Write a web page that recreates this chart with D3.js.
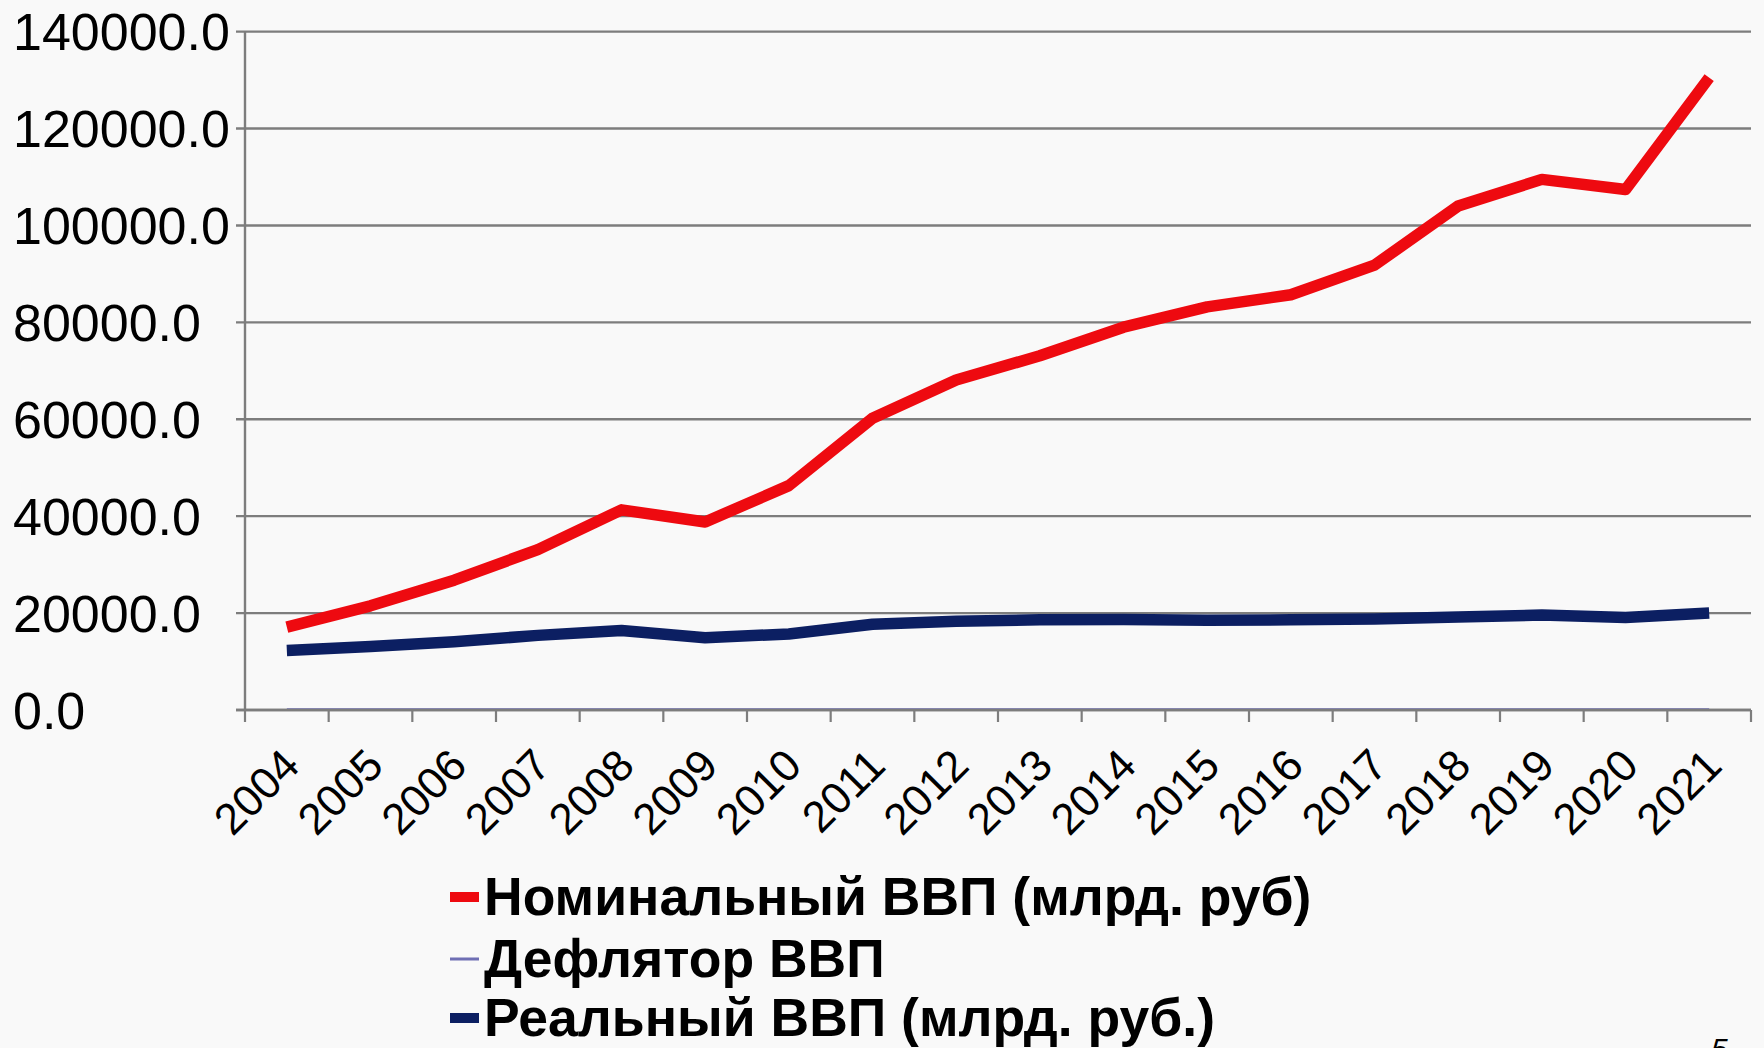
<!DOCTYPE html>
<html>
<head>
<meta charset="utf-8">
<script src="https://d3js.org/d3.v7.min.js"></script>
<style>
  html, body { margin: 0; padding: 0; background: #f9f9f9; }
  svg { display: block; }
  text { font-family: "Liberation Sans", Arial, sans-serif; fill: #000; }
</style>
</head>
<body>
<script>
const years = ["2004","2005","2006","2007","2008","2009","2010","2011","2012","2013","2014","2015","2016","2017","2018","2019","2020","2021"];
const nominalGDP = [17100, 21500, 26800, 33100, 41300, 38800, 46300, 60200, 68100, 73100, 79000, 83200, 85700, 91800, 104000, 109500, 107400, 130500];
const deflator = [120.3, 119.3, 115.2, 113.8, 118.0, 102.0, 114.2, 115.9, 108.9, 105.4, 107.5, 107.2, 102.8, 105.3, 110.0, 103.3, 100.9, 119.0];
const realGDP = [12300, 13100, 14100, 15400, 16400, 14900, 15700, 17700, 18300, 18600, 18700, 18500, 18600, 18800, 19200, 19600, 19100, 20000];
const yTicks = [0, 20000, 40000, 60000, 80000, 100000, 120000, 140000];
const legendLabels = ["Номинальный ВВП (млрд. руб)", "Дефлятор ВВП", "Реальный ВВП (млрд. руб.)"];
const seriesColors = ["#ee0a10", "#6f6fb4", "#0c1f62"];

const W = 1764, H = 1048;
const svg = d3.select("body").append("svg").attr("width", W).attr("height", H);

const x = d3.scaleBand().domain(years).range([245, 1751]).paddingInner(0).paddingOuter(0);
const y = d3.scaleLinear().domain([0, 140000]).range([710, 31.6]);
const cx = d => x(d) + x.bandwidth() / 2;

const gridColor = "#7d7d7d";

// gridlines + y ticks
svg.append("g").selectAll("line").data(yTicks).join("line")
  .attr("x1", 236).attr("x2", x.range()[1])
  .attr("y1", d => y(d)).attr("y2", d => y(d))
  .attr("stroke", gridColor).attr("stroke-width", 2.4);

// y labels (left aligned)
svg.append("g").selectAll("text").data(yTicks).join("text")
  .attr("x", 13).attr("y", d => y(d) + 18.5)
  .attr("font-size", 52)
  .text(d => d3.format(".1f")(d));

// deflator series (sits on the baseline)
const line = d3.line().x((d, i) => cx(years[i])).y(d => y(d));
svg.append("path").datum(deflator).attr("d", line)
  .attr("fill", "none").attr("stroke", seriesColors[1]).attr("stroke-width", 2.5);

// y axis line
svg.append("line").attr("x1", 245).attr("x2", 245).attr("y1", y(140000)).attr("y2", y(0) + 1)
  .attr("stroke", gridColor).attr("stroke-width", 2.4);

// x axis line and ticks
svg.append("line").attr("x1", 236).attr("x2", x.range()[1]).attr("y1", y(0)).attr("y2", y(0))
  .attr("stroke", gridColor).attr("stroke-width", 2.6);
const tickPos = years.map(d => x(d)).concat([x.range()[1]]);
svg.append("g").selectAll("line").data(tickPos).join("line")
  .attr("x1", d => d).attr("x2", d => d)
  .attr("y1", y(0)).attr("y2", y(0) + 12)
  .attr("stroke", gridColor).attr("stroke-width", 2.2);

// x labels rotated
svg.append("g").selectAll("text").data(years).join("text")
  .attr("transform", d => `translate(${cx(d) + 15},768) rotate(-45)`)
  .attr("text-anchor", "end")
  .attr("font-size", 44)
  .text(d => d);

// series lines
svg.append("path").datum(realGDP).attr("d", line)
  .attr("fill", "none").attr("stroke", seriesColors[2]).attr("stroke-width", 11.5)
  .attr("stroke-linejoin", "round");
svg.append("path").datum(nominalGDP).attr("d", line)
  .attr("fill", "none").attr("stroke", seriesColors[0]).attr("stroke-width", 11.5)
  .attr("stroke-linejoin", "round");

// legend
const legendRows = [
  { label: legendLabels[0], color: seriesColors[0], h: 10, base: 915 },
  { label: legendLabels[1], color: seriesColors[1], h: 3, base: 977 },
  { label: legendLabels[2], color: seriesColors[2], h: 10, base: 1036 }
];
const lg = svg.append("g");
legendRows.forEach(r => {
  lg.append("rect").attr("x", 450).attr("y", r.base - 18 - r.h / 2).attr("width", 29).attr("height", r.h)
    .attr("fill", r.color);
  lg.append("text").attr("x", 484).attr("y", r.base)
    .attr("font-size", 53.5).attr("font-weight", "bold").text(r.label);
});

// page number (partly below the page edge, as in the original slide)
svg.append("text").attr("x", 1711).attr("y", 1059).attr("font-size", 30)
  .attr("font-style", "italic").text("5");
</script>
</body>
</html>
